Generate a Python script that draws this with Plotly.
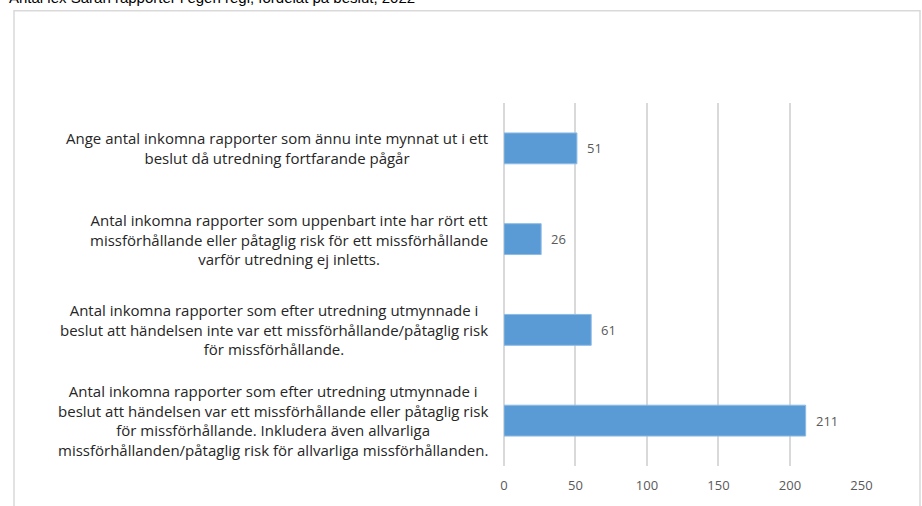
import plotly.graph_objects as go

title_text = "Antal lex Sarah rapporter i egen regi, fördelat på beslut, 2022"
categories = [
    "Ange antal inkomna rapporter som ännu inte mynnat ut i ett<br>beslut då utredning fortfarande pågår",
    "Antal inkomna rapporter som uppenbart inte har rört ett<br>missförhållande eller påtaglig risk för ett missförhållande<br>varför utredning ej inletts.",
    "Antal inkomna rapporter som efter utredning utmynnade i<br>beslut att händelsen inte var ett missförhållande/påtaglig risk<br>för missförhållande.",
    "Antal inkomna rapporter som efter utredning utmynnade i<br>beslut att händelsen var ett missförhållande eller påtaglig risk<br>för missförhållande. Inkludera även allvarliga<br>missförhållanden/påtaglig risk för allvarliga missförhållanden.",
]
values = [51, 26, 61, 211]
x_ticks = [0, 50, 100, 150, 200, 250]

W, H = 922, 506
ML, MR, MT, MB = 504, 60, 103, 37
pw = W - ML - MR
ph = H - MT - MB

def px_x(x):
    return (x - ML) / pw

def px_y(y):
    return 1 - (y - MT) / ph

cat_ids = [f"c{i}" for i in range(len(categories))]

fig = go.Figure()
fig.add_trace(go.Bar(
    x=values, y=cat_ids, orientation="h",
    marker=dict(color="#5B9BD5", line=dict(color="#8DBBE6", width=1)),
    width=0.34, hoverinfo="skip",
))

for cid, v in zip(cat_ids, values):
    fig.add_annotation(
        x=v, xref="x", y=cid, yref="y", text=str(v), showarrow=False,
        xanchor="left", yanchor="middle", xshift=8,
        font=dict(family="Open Sans", size=13, color="#595959"),
    )

for cid, label in zip(cat_ids, categories):
    fig.add_annotation(
        x=px_x(490), xref="paper", y=cid, yref="y",
        text=label, showarrow=False, xanchor="right", yanchor="middle",
        align="center", font=dict(family="Open Sans", size=15, color="#262626"),
    )

fig.add_annotation(
    x=px_x(7), xref="paper", y=px_y(-3), yref="paper",
    text=title_text, showarrow=False, xanchor="left", yanchor="middle",
    font=dict(family="Liberation Sans, Arial", size=15, color="#000000"),
)

fig.add_shape(
    type="rect", xref="paper", yref="paper",
    x0=px_x(14), x1=px_x(920), y0=px_y(520), y1=px_y(10),
    line=dict(color="#D9D9D9", width=1.5), fillcolor="rgba(0,0,0,0)", layer="below",
)

fig.update_layout(
    width=W, height=H,
    margin=dict(l=ML, r=MR, t=MT, b=MB),
    paper_bgcolor="white", plot_bgcolor="white",
    showlegend=False,
    xaxis=dict(
        range=[0, 250.4], tickvals=x_ticks, ticktext=[str(t) for t in x_ticks],
        showgrid=True, gridcolor="#D9D9D9", gridwidth=1.5,
        zeroline=True, zerolinecolor="#D9D9D9", zerolinewidth=1.5,
        showline=False, ticks="",
        tickfont=dict(family="Open Sans", size=13, color="#595959"),
        ticklabelstandoff=10,
    ),
    yaxis=dict(
        categoryorder="array", categoryarray=cat_ids[::-1],
        range=[-0.5, len(cat_ids) - 0.5],
        showticklabels=False, showgrid=False, zeroline=False, showline=False,
        ticks="",
    ),
)

fig.write_html(
    "out.html",
    config={"displayModeBar": False},
    post_script="document.body.style.margin='0';document.body.style.overflow='hidden';",
)
